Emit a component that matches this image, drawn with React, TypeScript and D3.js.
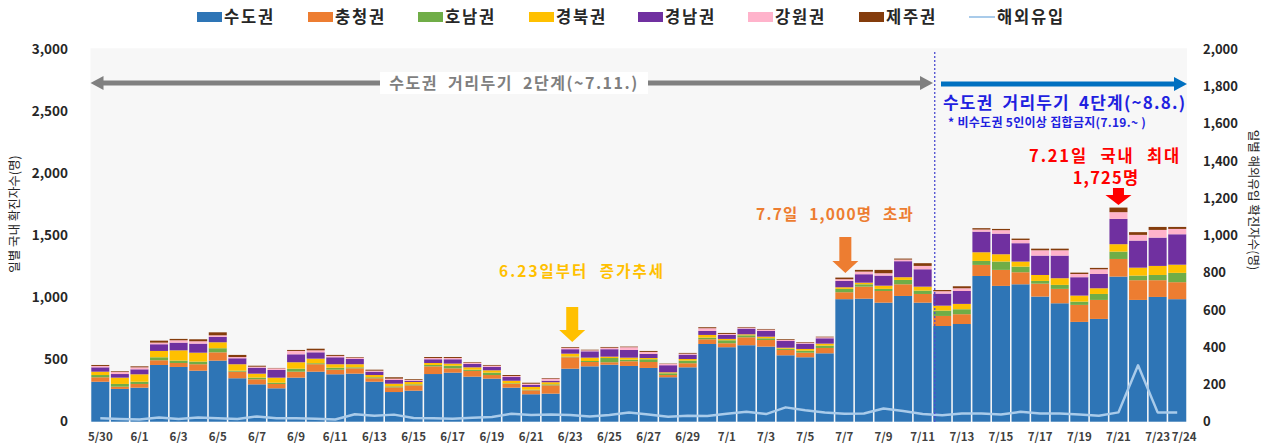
import React from "react";
import * as d3 from "d3";

const dates = ["5/30","5/31","6/1","6/2","6/3","6/4","6/5","6/6","6/7","6/8","6/9","6/10","6/11","6/12","6/13","6/14","6/15","6/16","6/17","6/18","6/19","6/20","6/21","6/22","6/23","6/24","6/25","6/26","6/27","6/28","6/29","6/30","7/1","7/2","7/3","7/4","7/5","7/6","7/7","7/8","7/9","7/10","7/11","7/12","7/13","7/14","7/15","7/16","7/17","7/18","7/19","7/20","7/21","7/22","7/23","7/24"];

const sudo = [322,264,274,457,441,411,492,350,301,269,355,403,382,387,322,239,250,384,395,363,347,274,221,226,427,446,459,449,433,358,438,626,600,616,605,535,519,551,987,991,959,1013,959,771,787,1174,1094,1107,1008,954,804,828,1169,981,1005,987];
const chungcheong = [36,18,30,38,32,52,67,53,41,35,48,60,37,43,28,38,43,62,35,46,29,30,32,67,92,35,20,38,48,18,33,38,32,64,53,43,37,43,56,97,94,94,70,81,79,89,129,97,104,116,137,153,142,159,135,137];
const honam = [18,22,18,24,19,21,33,8,13,10,24,8,16,8,8,8,8,11,21,10,19,5,5,8,5,8,34,13,22,14,21,13,24,16,14,10,16,19,27,19,17,35,27,43,40,32,67,45,22,32,26,48,59,37,42,75];
const gyeongbuk = [27,51,60,51,83,72,48,52,32,41,52,37,28,25,18,21,19,16,17,19,19,21,22,17,24,27,11,16,10,8,13,22,11,8,13,8,14,16,13,13,26,22,32,40,43,70,59,41,48,54,49,46,60,64,73,66];
const gyeongnam = [35,29,40,54,62,73,43,48,48,62,64,51,56,42,27,30,10,30,35,27,27,30,16,12,36,51,60,62,33,57,35,32,32,46,46,54,43,43,51,68,81,129,140,97,104,166,166,148,156,182,148,115,204,218,228,245];
const gangwon = [11,16,16,13,19,19,13,10,8,13,27,16,11,11,8,11,6,10,10,11,10,8,10,17,10,8,12,22,16,10,8,22,8,8,11,8,8,8,14,21,19,13,27,19,22,17,28,26,43,43,26,38,54,46,62,43];
const jeju = [8,6,8,16,11,16,24,17,8,3,8,13,8,5,8,11,6,8,8,5,6,8,8,5,6,5,6,5,8,3,6,8,8,5,5,6,5,5,13,14,27,8,22,10,16,11,10,11,13,13,11,11,37,22,24,16];
const imported = [18,15,12,22,14,22,18,14,28,18,18,16,12,40,32,38,20,18,16,21,25,43,36,39,36,28,36,50,39,27,32,30,43,53,41,77,62,50,43,44,71,57,41,34,44,44,39,53,44,44,39,32,50,303,50,50];

const seriesNames = ["수도권","충청권","호남권","경북권","경남권","강원권","제주권"];
const seriesColors = ["#2E75B6","#ED7D31","#70AD47","#FFC000","#7030A0","#FFB3CB","#843C0C"];
const lineName = "해외유입";
const lineColor = "#A9CBEA";
const leftTicks = [0,500,1000,1500,2000,2500,3000];
const rightTicks = [0,200,400,600,800,1000,1200,1400,1600,1800,2000];

const FONT = "'Noto Sans CJK KR', 'Noto Sans', sans-serif";

export default function App() {
  const W = 1269, H = 444;
  const top = 49.3, bottom = 421.7, left = 90.5, right = 1187;
  const seriesArrays = [sudo, chungcheong, honam, gyeongbuk, gyeongnam, gangwon, jeju];
  const rows = dates.map((d, i) => {
    const r: any = { date: d };
    seriesNames.forEach((n, k) => (r[n] = seriesArrays[k][i]));
    return r;
  });
  const stacked = d3.stack<any>().keys(seriesNames)(rows);
  const x = d3.scaleBand<string>().domain(dates).range([left, right]).paddingInner(0.08).paddingOuter(0.04);
  const yL = d3.scaleLinear().domain([0, 3000]).range([bottom, top]);
  const yR = d3.scaleLinear().domain([0, 2000]).range([bottom, top]);
  const bw = x.bandwidth();
  const cx = (d: string) => (x(d) as number) + bw / 2;
  const line = d3.line<number>().x((_, i) => cx(dates[i])).y((v) => yR(v));
  const xLabels = dates.filter((_, i) => i % 2 === 0 || i === dates.length - 1);
  const lastDate = dates[dates.length - 1];
  const sepX = (x("7/12") as number) + 1.5;

  const legendItems = [...seriesNames.map((n, i) => ({ n, c: seriesColors[i], line: false })), { n: lineName, c: lineColor, line: true }];
  const legendX = [197, 308, 418, 529, 638, 748, 859, 969];

  const downArrow = (xc: number, y0: number, y1: number, color: string, sw: number, hw: number, hh: number) => (
    <polygon
      points={`${xc - sw / 2},${y0} ${xc + sw / 2},${y0} ${xc + sw / 2},${y1 - hh} ${xc + hw},${y1 - hh} ${xc},${y1} ${xc - hw},${y1 - hh} ${xc - sw / 2},${y1 - hh}`}
      fill={color}
    />
  );

  const gy = 83;
  const grayL = left, grayR = 933;
  const blueL = 941, blueR = 1187;
  const by = 84;

  return (
    <svg width={W} height={H} style={{ position: "absolute", left: 0, top: 0, background: "#fff" }} fontFamily={FONT}>
      <rect x={left} y={top - 1} width={right - left} height={bottom - top + 1} fill="#F7F7F7" />
      {/* legend */}
      {legendItems.map((it, i) => (
        <g key={it.n} transform={`translate(${legendX[i]},17)`}>
          {it.line ? (
            <line x1={0} x2={26} y1={0} y2={0} stroke={it.c} strokeWidth={2} />
          ) : (
            <rect x={0} y={-5} width={25} height={10} fill={it.c} />
          )}
          <text x={it.line ? 28 : 27} y={0} dy="0.35em" fontSize={16.5} fontWeight={700} letterSpacing={1.8} fill="#262626">{it.n}</text>
        </g>
      ))}
      {/* bars */}
      {stacked.map((s, k) => (
        <g key={s.key} fill={seriesColors[k]}>
          {s.map((d, i) => (
            <rect key={i} x={x(dates[i])} y={yL(d[1])} width={bw} height={Math.max(0, yL(d[0]) - yL(d[1]))} />
          ))}
        </g>
      ))}
      {/* imported line */}
      <path d={line(imported) || ""} fill="none" stroke={lineColor} strokeWidth={2.5} strokeLinejoin="round" />
      {/* separator */}
      <line x1={sepX} x2={sepX} y1={52} y2={bottom} stroke="#4B4BD0" strokeWidth={1.3} strokeDasharray="2,2" />
      {/* left axis */}
      {leftTicks.map((t) => (
        <text key={t} x={68} y={yL(t)} dy="0.35em" textAnchor="end" fontSize={13.5} fontWeight={700} fill="#262626">{d3.format(",")(t)}</text>
      ))}
      {rightTicks.map((t) => (
        <text key={t} x={1203} y={yR(t)} dy="0.35em" textAnchor="start" fontSize={13} fontWeight={700} fill="#262626">{d3.format(",")(t)}</text>
      ))}
      {xLabels.map((d) => (
        <text key={d} x={d === lastDate ? cx(d) + 7 : cx(d)} y={437} dy="0.35em" textAnchor="middle" fontSize={11.5} fontWeight={700} fill="#404040">{d}</text>
      ))}
      <text transform={`translate(15,214) rotate(-90)`} textAnchor="middle" dy="0.35em" fontSize={12.5} fill="#262626">일별 국내 확진자수(명)</text>
      <text transform={`translate(1253,200) rotate(90)`} textAnchor="middle" dy="0.35em" fontSize={12.5} fill="#262626">일별 해외유입 확진자수(명)</text>
      {/* gray double arrow */}
      <rect x={grayL + 11} y={gy - 2.5} width={grayR - grayL - 22} height={5} fill="#808080" />
      <polygon points={`${grayL},${gy} ${grayL + 13},${gy - 7} ${grayL + 13},${gy + 7}`} fill="#808080" />
      <polygon points={`${grayR},${gy} ${grayR - 13},${gy - 7} ${grayR - 13},${gy + 7}`} fill="#808080" />
      <rect x={380} y={gy - 11} width={268} height={22} fill="#fff" />
      <text x={514} y={gy} dy="0.35em" textAnchor="middle" fontSize={16} fontWeight={700} letterSpacing={1.5} wordSpacing={5} fill="#7F7F7F">수도권 거리두기 2단계(~7.11.)</text>
      {/* blue arrow */}
      <rect x={blueL} y={by - 2.5} width={blueR - blueL - 11} height={5} fill="#0070C0" />
      <polygon points={`${blueR},${by} ${blueR - 13},${by - 7} ${blueR - 13},${by + 7}`} fill="#0070C0" />
      <text x={943} y={103} dy="0.35em" fontSize={17} fontWeight={700} letterSpacing={1.2} wordSpacing={4} fill="#1F1FE0">수도권 거리두기 4단계(~8.8.)</text>
      <text x={948} y={123} dy="0.35em" fontSize={12} fontWeight={700} letterSpacing={0.3} fill="#1F1FE0">* 비수도권 5인이상 집합금지(7.19.~ )</text>
      {/* red annotation */}
      <text x={1105} y={156} dy="0.35em" textAnchor="middle" fontSize={16.5} fontWeight={700} letterSpacing={1.8} wordSpacing={7} fill="#FF0000">7.21일 국내 최대</text>
      <text x={1106} y={178} dy="0.35em" textAnchor="middle" fontSize={16.5} fontWeight={700} letterSpacing={1.2} fill="#FF0000">1,725명</text>
      {downArrow(cx("7/21"), 188, 205, "#FF0000", 11, 13, 10)}
      {/* orange annotation */}
      <text x={835} y={215} dy="0.35em" textAnchor="middle" fontSize={15.5} fontWeight={700} letterSpacing={1.2} wordSpacing={6} fill="#ED7D31">7.7일 1,000명 초과</text>
      {downArrow(cx("7/7") + 1, 237, 273, "#ED7D31", 12, 13, 12)}
      {/* yellow annotation */}
      <text x={582} y={272} dy="0.35em" textAnchor="middle" fontSize={15.5} fontWeight={700} letterSpacing={2} wordSpacing={6} fill="#FFC000">6.23일부터 증가추세</text>
      {downArrow(cx("6/23") + 2, 307, 342, "#FFC000", 12, 13, 12)}
    </svg>
  );
}
